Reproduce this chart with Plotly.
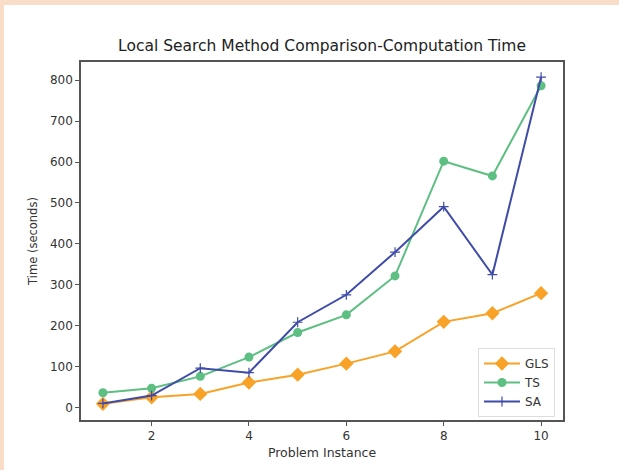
import plotly.graph_objects as go

instances = [1, 2, 3, 4, 5, 6, 7, 8, 9, 10]
gls_time = [10, 26, 34, 62, 81, 108, 138, 210, 231, 280]
ts_time = [37, 48, 77, 124, 184, 227, 322, 602, 566, 786]
sa_time = [11, 30, 97, 86, 209, 276, 380, 491, 325, 807]
x_ticks = [2, 4, 6, 8, 10]
y_ticks = [0, 100, 200, 300, 400, 500, 600, 700, 800]

W, H = 619, 470
L, R, T, B = 81, 563, 62, 420

fig = go.Figure()
fig.add_trace(go.Scatter(x=instances, y=gls_time, name="GLS", mode="lines+markers",
                         line=dict(color="#f8a227", width=2),
                         marker=dict(symbol="diamond", size=11, color="#f8a227")))
fig.add_trace(go.Scatter(x=instances, y=ts_time, name="TS", mode="lines+markers",
                         line=dict(color="#5dbf82", width=2),
                         marker=dict(symbol="circle", size=9, color="#5dbf82")))
fig.add_trace(go.Scatter(x=instances, y=sa_time, name="SA", mode="lines+markers",
                         line=dict(color="#3f4ba8", width=2),
                         marker=dict(symbol="cross-thin", size=7,
                                     line=dict(color="#3f4ba8", width=1.2))))

def px(p):
    return (p - L) / (R - L)

def py(p):
    return (B - p) / (B - T)

peach = "#f9ddc9"
shapes = [
    dict(type="rect", xref="paper", yref="paper", x0=px(0), x1=px(W), y0=py(0), y1=py(5),
         fillcolor=peach, line=dict(width=0), layer="below"),
    dict(type="rect", xref="paper", yref="paper", x0=px(0), x1=px(4), y0=py(H), y1=py(0),
         fillcolor=peach, line=dict(width=0), layer="below"),
]

axis_common = dict(showgrid=False, zeroline=False, showline=True, linecolor="#555555",
                   linewidth=1.5, mirror=True, ticks="outside", ticklen=4, tickwidth=1,
                   tickcolor="#555555", tickfont=dict(size=12, color="#333333"))

fig.update_layout(
    width=W, height=H,
    margin=dict(l=L, r=W - R, t=T, b=H - B, pad=0),
    paper_bgcolor="white", plot_bgcolor="white",
    font=dict(family="DejaVu Sans", color="#333333"),
    title=dict(text="Local Search Method Comparison-Computation Time",
               x=0.5, xref="paper", xanchor="center", y=1 - 46 / H, yanchor="middle",
               font=dict(size=15.5, color="#222222")),
    xaxis=dict(range=[0.55, 10.45], tickvals=x_ticks,
               title=dict(text="Problem Instance", font=dict(size=12.5), standoff=6),
               **axis_common),
    yaxis=dict(range=[-29.5, 844], tickvals=y_ticks,
               title=dict(text="Time (seconds)", font=dict(size=11.5), standoff=10),
               **axis_common),
    legend=dict(x=px(555), y=py(417), xanchor="right", yanchor="bottom",
                bgcolor="white", bordercolor="#dddddd", borderwidth=1,
                font=dict(size=12, color="#333333"), itemwidth=36,
                tracegroupgap=0),
    shapes=shapes,
    showlegend=True,
)

fig.write_html("out.html", config={"displayModeBar": False},
               post_script="document.body.style.margin='0';")
